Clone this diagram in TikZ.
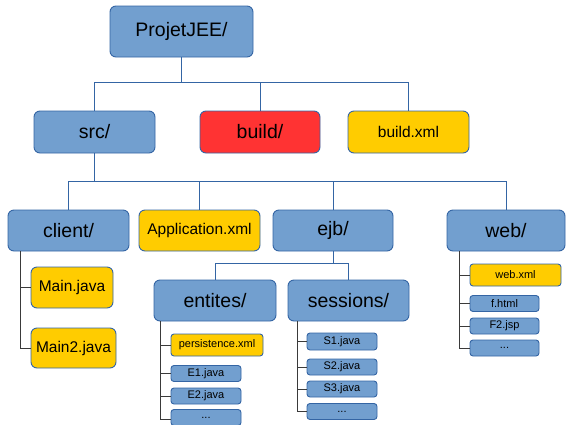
\documentclass[tikz,border=0pt]{standalone}
\usepackage{fontspec}
\setmainfont{Liberation Sans}
\definecolor{bfill}{HTML}{729FCF}
\definecolor{bline}{HTML}{3465A4}
\definecolor{yfill}{HTML}{FFCC00}
\definecolor{rfill}{HTML}{FF3333}
\definecolor{tline}{HTML}{3A3A3A}
\tikzset{
  box/.style={draw=bline, line width=0.9pt, rounded corners=6pt, inner sep=0pt, text=black},
  bluebox/.style={box, fill=bfill},
  yellowbox/.style={box, fill=yfill},
  redbox/.style={box, fill=rfill},
  big/.style={font=\fontsize{19.5}{22}\selectfont},
  mid/.style={font=\fontsize{15.5}{18}\selectfont},
  small/.style={font=\fontsize{11}{13}\selectfont, rounded corners=3pt},
  treeline/.style={draw=bline, line width=1pt},
  leafline/.style={draw=tline, line width=1pt},
}
\begin{document}
\begin{tikzpicture}[x=1pt,y=-1pt]
\useasboundingbox (0,0) rectangle (566,424);
% level 0
\node[bluebox, big, minimum width=143pt, minimum height=51pt] (root) at (181.5,31.5) {ProjetJEE/};
% level 1
\node[bluebox, big, minimum width=121pt, minimum height=42pt] (src) at (94.5,132) {src/};
\node[redbox, big, minimum width=120pt, minimum height=42pt] (build) at (260,132) {build/};
\node[yellowbox, mid, minimum width=121pt, minimum height=42pt] (buildxml) at (408.5,132) {build.xml};
% level 2
\node[bluebox, big, minimum width=121pt, minimum height=41pt] (client) at (68.5,230.5) {client/};
\node[yellowbox, mid, minimum width=121pt, minimum height=41pt] (app) at (199.5,230.5) {Application.xml};
\node[bluebox, big, minimum width=120pt, minimum height=41pt] (ejb) at (333,230.5) {ejb/};
\node[bluebox, big, minimum width=118pt, minimum height=41pt] (web) at (506,230.5) {web/};
% client children
\node[yellowbox, mid, minimum width=82pt, minimum height=41pt] (main) at (72,287.5) {Main.java};
\node[yellowbox, mid, minimum width=85pt, minimum height=40pt] (main2) at (73.5,348) {Main2.java};
% ejb children
\node[bluebox, big, minimum width=122pt, minimum height=41pt] (entites) at (215,300.5) {entites/};
\node[bluebox, big, minimum width=121pt, minimum height=41pt] (sessions) at (348.5,300.5) {sessions/};
% entites children
\node[yellowbox, small, minimum width=92pt, minimum height=22pt] (pers) at (217,345) {persistence.xml};
\node[bluebox, small, minimum width=70pt, minimum height=16pt] (e1) at (206,373.5) {E1.java};
\node[bluebox, small, minimum width=70pt, minimum height=16pt] (e2) at (206,396) {E2.java};
\node[bluebox, small, minimum width=70pt, minimum height=16pt] (edots) at (206,417.5) {...};
% sessions children
\node[bluebox, small, minimum width=70pt, minimum height=17pt] (s1) at (342,341.5) {S1.java};
\node[bluebox, small, minimum width=70pt, minimum height=16pt] (s2) at (342,367) {S2.java};
\node[bluebox, small, minimum width=70pt, minimum height=16pt] (s3) at (342,389) {S3.java};
\node[bluebox, small, minimum width=70pt, minimum height=16pt] (sdots) at (342,411.5) {...};
% web children
\node[yellowbox, small, minimum width=91pt, minimum height=22pt] (webxml) at (515.5,275) {web.xml};
\node[bluebox, small, minimum width=69pt, minimum height=16pt] (fhtml) at (504.5,303.5) {f.html};
\node[bluebox, small, minimum width=69pt, minimum height=16pt] (f2) at (504.5,326) {F2.jsp};
\node[bluebox, small, minimum width=69pt, minimum height=16pt] (wdots) at (504.5,348) {...};
% tree connectors
\coordinate (b0) at (181.5,82);
\draw[treeline] (root.south) -- (b0);
\draw[treeline] (b0) -| (src.north);
\draw[treeline] (b0) -| (build.north);
\draw[treeline] (b0) -| (buildxml.north);
\coordinate (b1) at (94.5,181.5);
\draw[treeline] (src.south) -- (b1);
\draw[treeline] (b1) -| (client.north);
\draw[treeline] (b1) -| (app.north);
\draw[treeline] (b1) -| (ejb.north);
\draw[treeline] (b1) -| (web.north);
\coordinate (b2) at (333,263);
\draw[treeline] (ejb.south) -- (b2);
\draw[treeline] (b2) -| (entites.north);
\draw[treeline] (b2) -| (sessions.north);
% leaf connectors
\coordinate (tc) at ([xshift=13pt]client.south west);
\draw[leafline] (tc) |- (main.west);
\draw[leafline] (tc) |- (main2.west);
\coordinate (te) at ([xshift=7pt]entites.south west);
\draw[leafline] (te) |- (pers.west);
\draw[leafline] (te) |- (e1.west);
\draw[leafline] (te) |- (e2.west);
\draw[leafline] (te) |- ([yshift=-2pt]edots.west);
\coordinate (ts) at ([xshift=10pt]sessions.south west);
\draw[leafline] (ts) |- (s1.west);
\draw[leafline] (ts) |- (s2.west);
\draw[leafline] (ts) |- (s3.west);
\draw[leafline] (ts) |- (sdots.west);
\coordinate (tw) at ([xshift=13pt]web.south west);
\draw[leafline] (tw) |- (webxml.west);
\draw[leafline] (tw) |- (fhtml.west);
\draw[leafline] (tw) |- (f2.west);
\draw[leafline] (tw) |- (wdots.west);
\end{tikzpicture}
\end{document}
